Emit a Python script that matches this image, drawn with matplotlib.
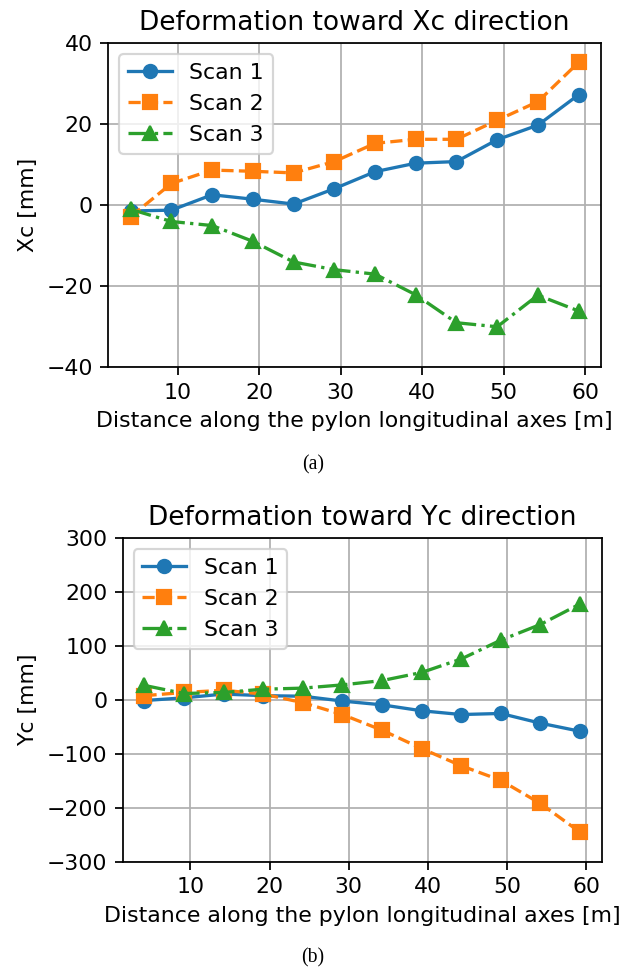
import matplotlib
matplotlib.use("Agg")
import matplotlib.pyplot as plt

# Data
distance = [4.2, 9.2, 14.2, 19.2, 24.2, 29.2, 34.2, 39.2, 44.2, 49.2, 54.2, 59.2]

xc_scan1 = [-1.4, -1.2, 2.6, 1.5, 0.3, 4.1, 8.3, 10.4, 10.8, 16.2, 19.8, 27.3]
xc_scan2 = [-2.8, 5.4, 8.7, 8.4, 8.0, 10.8, 15.3, 16.3, 16.3, 21.0, 25.6, 35.3]
xc_scan3 = [-1.0, -4.0, -5.0, -8.9, -14.0, -15.9, -17.0, -22.1, -29.0, -30.0, -22.2, -26.1]

yc_scan1 = [-1, 4, 11, 8, 7, -2, -9, -20, -27, -25, -43, -58]
yc_scan2 = [8, 14, 18, 11, -5, -27, -56, -90, -122, -149, -192, -245]
yc_scan3 = [27, 12, 14, 20, 22, 28, 36, 51, 76, 111, 140, 178]

series_labels = ["Scan 1", "Scan 2", "Scan 3"]
xlabel = "Distance along the pylon longitudinal axes [m]"

DPI = 158
fig = plt.figure(figsize=(626 / DPI, 976 / DPI), dpi=DPI)

styles = [dict(marker="o", linestyle="-", color="#1f77b4"),
          dict(marker="s", linestyle="--", color="#ff7f0e"),
          dict(marker="^", linestyle="-.", color="#2ca02c")]

ax1 = fig.add_axes([0.1730, 0.6237, 0.7871, 0.3319])
for ys, lab, st in zip([xc_scan1, xc_scan2, xc_scan3], series_labels, styles):
    ax1.plot(distance, ys, label=lab, **st)
ax1.set_ylim(-40, 40)
ax1.set_yticks([-40, -20, 0, 20, 40])
ax1.set_xticks([10, 20, 30, 40, 50, 60])
ax1.grid(True)
ax1.set_title("Deformation toward Xc direction")
ax1.set_ylabel("Xc [mm]")
ax1.set_xlabel(xlabel)
ax1.legend(loc="upper left")

ax2 = fig.add_axes([0.1960, 0.1171, 0.7652, 0.3314])
for ys, lab, st in zip([yc_scan1, yc_scan2, yc_scan3], series_labels, styles):
    ax2.plot(distance, ys, label=lab, **st)
ax2.set_ylim(-300, 300)
ax2.set_yticks([-300, -200, -100, 0, 100, 200, 300])
ax2.set_xticks([10, 20, 30, 40, 50, 60])
ax2.grid(True)
ax2.set_title("Deformation toward Yc direction")
ax2.set_ylabel("Yc [mm]")
ax2.set_xlabel(xlabel)
ax2.legend(loc="upper left")

fig.text(0.5, 1 - 465 / 976, "(a)", ha="center", va="center",
         family="Liberation Serif", fontsize=9)
fig.text(0.5, 1 - 958 / 976, "(b)", ha="center", va="center",
         family="Liberation Serif", fontsize=9)

fig.savefig("out.png", dpi=DPI, facecolor="white")
